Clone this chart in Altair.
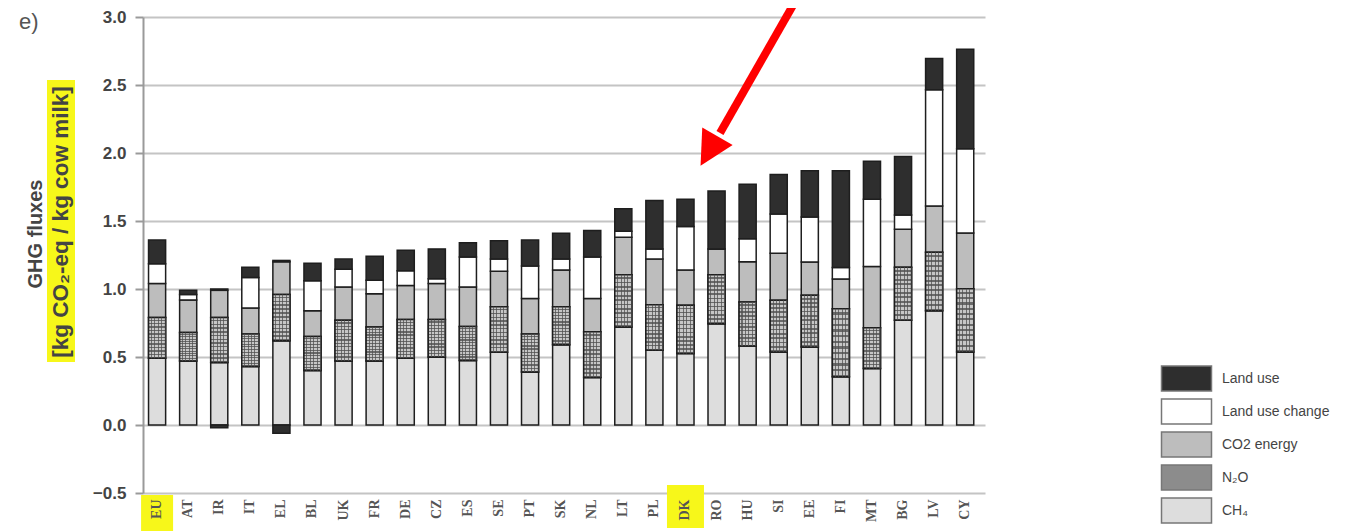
import altair as alt
import pandas as pd

countries = ["EU", "AT", "IR", "IT", "EL", "BL", "UK", "FR", "DE", "CZ", "ES", "SE", "PT", "SK",
             "NL", "LT", "PL", "DK", "RO", "HU", "SI", "EE", "FI", "MT", "BG", "LV", "CY"]
ch4 = [0.49, 0.47, 0.46, 0.43, 0.62, 0.40, 0.47, 0.47, 0.49, 0.50, 0.475, 0.535, 0.39, 0.59,
       0.35, 0.72, 0.55, 0.525, 0.745, 0.58, 0.537, 0.574, 0.354, 0.415, 0.77, 0.84, 0.537]
n2o = [0.30, 0.21, 0.33, 0.24, 0.34, 0.25, 0.30, 0.25, 0.285, 0.275, 0.25, 0.335, 0.28, 0.28,
       0.335, 0.385, 0.335, 0.355, 0.36, 0.325, 0.38, 0.38, 0.50, 0.30, 0.39, 0.43, 0.465]
co2_energy = [0.25, 0.24, 0.20, 0.19, 0.24, 0.19, 0.245, 0.245, 0.25, 0.265, 0.29, 0.26, 0.26, 0.27,
              0.245, 0.275, 0.335, 0.26, 0.19, 0.295, 0.345, 0.245, 0.22, 0.45, 0.28, 0.34, 0.41]
land_use_change = [0.145, 0.04, 0.01, 0.225, 0.01, 0.22, 0.13, 0.10, 0.11, 0.035, 0.22, 0.09, 0.24, 0.08,
                   0.305, 0.045, 0.075, 0.32, 0.0, 0.17, 0.29, 0.33, 0.085, 0.495, 0.105, 0.855, 0.62]
land_use = [0.175, 0.03, -0.02, 0.075, -0.06, 0.13, 0.075, 0.175, 0.15, 0.22, 0.105, 0.135, 0.19, 0.19,
            0.195, 0.165, 0.355, 0.20, 0.425, 0.40, 0.29, 0.34, 0.71, 0.28, 0.43, 0.23, 0.73]

legend_order = ["Land use", "Land use change", "CO2 energy", "N\u2082O", "CH\u2084"]
fill_colors = ["#2e2e2e", "#ffffff", "#bdbdbd", "#8c8c8c", "#dddddd"]
highlighted = ["EU", "DK"]
y_ticks = [-0.5, 0.0, 0.5, 1.0, 1.5, 2.0, 2.5, 3.0]

series = [("CH\u2084", ch4, 0), ("N\u2082O", n2o, 1), ("CO2 energy", co2_energy, 2),
          ("Land use change", land_use_change, 3), ("Land use", land_use, 4)]
rows = []
for i, c in enumerate(countries):
    for name, arr, o in series:
        rows.append({"country": c, "comp": name, "val": arr[i], "ord": o})
df = pd.DataFrame(rows)

xscale = alt.Scale(domain=countries, paddingInner=0.45, paddingOuter=0.27, align=0.33)
yscale = alt.Scale(domain=[-0.5, 3.0], nice=False)


def stripes(n, light, dark, frac_dark, horizontal):
    stops = []
    for k in range(n):
        a = k / n
        b = (k + 1 - frac_dark) / n
        c = (k + 1) / n
        stops += [alt.GradientStop(offset=a, color=light), alt.GradientStop(offset=b, color=light),
                  alt.GradientStop(offset=b, color=dark), alt.GradientStop(offset=c, color=dark)]
    if horizontal:
        return alt.LinearGradient(gradient="linear", stops=stops, x1=0, x2=0, y1=0, y2=1)
    return alt.LinearGradient(gradient="linear", stops=stops, x1=0, x2=1, y1=0, y2=0)


bars = alt.Chart(df).mark_bar(stroke="#1e1e1e", strokeWidth=1.5).encode(
    x=alt.X("country:N", sort=countries, scale=xscale,
            axis=alt.Axis(title=None, labelAngle=270, ticks=False, domain=False,
                          labelFont="Liberation Serif", labelFontWeight="bold",
                          labelFontSize=14, labelColor="#555555", labelPadding=6, zindex=1)),
    y=alt.Y("val:Q", stack="zero", scale=yscale,
            axis=alt.Axis(title=None, values=y_ticks, format=".1f",
                          labelFont="Liberation Sans", labelFontWeight="bold",
                          labelFontSize=17, labelColor="#444444", labelPadding=9,
                          tickSize=8, tickColor="#9a9a9a", tickWidth=2,
                          domainColor="#9a9a9a", domainWidth=2,
                          grid=True, gridColor="#c4c4c4", gridWidth=2)),
    color=alt.Color("comp:N", scale=alt.Scale(domain=legend_order, range=fill_colors),
                    legend=alt.Legend(title=None, orient="none", legendX=1030, legendY=348,
                                      symbolType="M-2,-1H2V1H-2Z", symbolSize=625,
                                      symbolStrokeColor="#777777", symbolStrokeWidth=1.5,
                                      labelFont="Liberation Sans", labelFontSize=14,
                                      labelColor="#444444", labelOffset=22, rowPadding=2)),
    order=alt.Order("ord:Q", sort="ascending"),
)

stacked = alt.Chart(df).transform_stack(
    stack="val", as_=["y0", "y1"], groupby=["country"],
    sort=[alt.SortField("ord", order="ascending")], offset="zero"
).transform_filter(alt.datum.comp == "N\u2082O")

n2o_h = stacked.mark_bar(fill=stripes(12, "#c6c6c6", "#6a6a6a", 0.4, True),
                         stroke="#1e1e1e", strokeWidth=1.5).encode(
    x=alt.X("country:N", sort=countries, scale=xscale),
    y=alt.Y("y0:Q", scale=yscale), y2="y1:Q")
n2o_v = stacked.mark_bar(fill=stripes(5, "rgba(0,0,0,0)", "rgba(80,80,80,0.75)", 0.3, False),
                         strokeWidth=0).encode(
    x=alt.X("country:N", sort=countries, scale=xscale),
    y=alt.Y("y0:Q", scale=yscale), y2="y1:Q")

hl_df = pd.DataFrame({"country": highlighted})
hl_eu = alt.Chart(hl_df).transform_filter(alt.datum.country == "EU").mark_bar(
    color="#f7f71a", size=32).encode(
    x=alt.X("country:N", sort=countries, scale=xscale),
    y=alt.value(478), y2=alt.value(519))
hl_dk = alt.Chart(hl_df).transform_filter(alt.datum.country == "DK").mark_bar(
    color="#f7f71a", size=37).encode(
    x=alt.X("country:N", sort=countries, scale=xscale),
    y=alt.value(468), y2=alt.value(511))

one = pd.DataFrame({"a": [0]})
title_hl = alt.Chart(one).mark_rect(color="#f7f71a").encode(
    x=alt.value(-96), x2=alt.value(-68), y=alt.value(63), y2=alt.value(345))
title1 = alt.Chart(one).mark_text(text="GHG fluxes", angle=270, font="Liberation Sans",
                                  fontWeight="bold", fontSize=20, color="#444444",
                                  align="center", baseline="middle").encode(
    x=alt.value(-107), y=alt.value(217))
title2 = alt.Chart(one).mark_text(text="[kg CO\u2082-eq / kg cow milk]", angle=270,
                                  font="Liberation Sans", fontWeight="bold", fontSize=22.5,
                                  color="#444444", align="center", baseline="middle").encode(
    x=alt.value(-82), y=alt.value(205))
panel = alt.Chart(one).mark_text(text="e)", font="Liberation Sans", fontSize=22,
                                 color="#555555", align="left", baseline="middle").encode(
    x=alt.value(-124), y=alt.value(5))

arrow_shaft = alt.Chart(one).mark_rule(color="#ff0000", strokeWidth=8).encode(
    x=alt.value(653), y=alt.value(-17), x2=alt.value(577), y2=alt.value(116))
arrow_head = alt.Chart(one).mark_point(shape="M0,-1L1.03,1L-1.03,1Z", filled=True,
                                       color="#ff0000", opacity=1, size=1156,
                                       angle=209.8).encode(
    x=alt.value(566), y=alt.value(134))

chart = alt.layer(hl_eu, hl_dk, title_hl, bars, n2o_h, n2o_v, title1, title2, panel,
                  arrow_shaft, arrow_head).properties(
    width=842, height=476,
    autosize=alt.AutoSizeParams(type="none"),
    padding={"left": 135, "top": 9, "right": 372, "bottom": 38},
).configure_view(strokeWidth=0)

chart.save("out.html", embed_options={"renderer": "svg", "actions": False})
